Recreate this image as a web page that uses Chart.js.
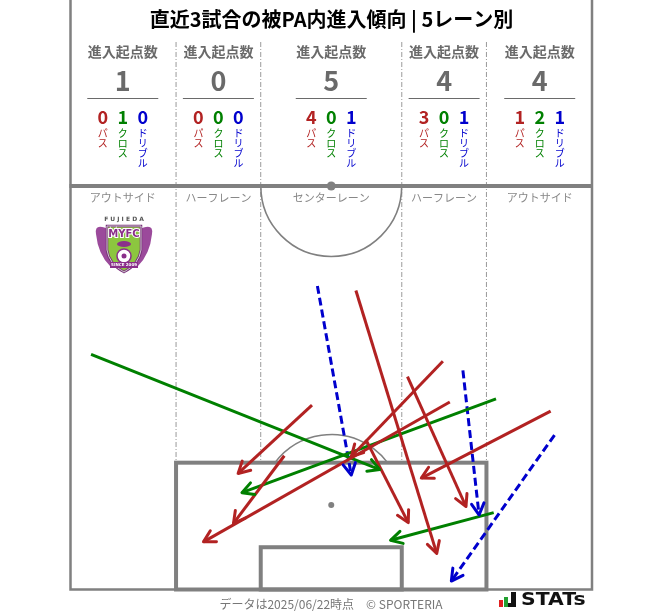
<!DOCTYPE html>
<html>
<head>
<meta charset="utf-8">
<script src="https://cdn.jsdelivr.net/npm/chart.js@4.4.1/dist/chart.umd.min.js"></script>
<style>
  html, body { margin: 0; padding: 0; background: #fff; }
  canvas { display: block; }
</style>
</head>
<body>
<canvas id="pitch" width="663" height="611"></canvas>
<script>
// タイトル・レーン情報
const TITLE = "直近3試合の被PA内進入傾向 | 5レーン別";
const laneNames = ["アウトサイド", "ハーフレーン", "センターレーン", "ハーフレーン", "アウトサイド"];
const laneEdges = [0, 13.84, 24.84, 43.16, 54.16, 68]; // m (ピッチ幅68m)
const laneTotals = [1, 0, 5, 4, 4];
const lanePass = [0, 0, 4, 3, 1];
const laneCross = [1, 0, 0, 0, 2];
const laneDribble = [0, 0, 1, 1, 1];

// 矢印 [始点x, 始点y, 終点x, 終点y] (x: 左タッチラインから m, y: ゴールラインから m)
const passes = [
    [31.5, 24.0, 21.9, 15.1],
    [27.9, 17.4, 21.3, 8.6],
    [48.5, 29.7, 36.6, 17.3],
    [49.4, 24.4, 17.4, 6.2],
    [37.2, 38.9, 47.7, 4.7],
    [43.9, 27.7, 51.5, 10.8],
    [62.5, 23.2, 45.7, 14.5],
    [38.5, 19.5, 44.0, 8.7]
];
const crosses = [
    [2.8, 30.6, 40.3, 15.6],
    [55.4, 24.8, 22.4, 12.6],
    [55.1, 10.0, 41.7, 6.4]
];
const dribbles = [
    [32.2, 39.5, 36.6, 14.9],
    [51.1, 28.5, 53.2, 9.7],
    [63.0, 20.1, 49.6, 1.1]
];

const RED = "#b22222", GREEN = "#008000", BLUE = "#0000cd", LINE = "#808080";

// データセット作成
function toDatasets(list, color, dashed) {
    return list.map(a => ({
        data: [{ x: a[0], y: a[1] }, { x: a[2], y: a[3] }],
        showLine: true,
        borderColor: color,
        borderWidth: 3,
        borderDash: dashed ? [8, 4] : [],
        pointRadius: 0
    }));
}

const datasets = [].concat(
    toDatasets(passes, RED, false),
    toDatasets(crosses, GREEN, false),
    toDatasets(dribbles, BLUE, true)
);

// ピッチを描く
const pitchPlugin = {
    id: "pitch",
    beforeDatasetsDraw(chart) {
        const ctx = chart.ctx;
        const X = v => chart.scales.x.getPixelForValue(v);
        const Y = v => chart.scales.y.getPixelForValue(v);
        const r = X(9.15) - X(0);
        ctx.save();
        ctx.fillStyle = LINE;

        // レーン区切り
        ctx.lineWidth = 1;
        ctx.strokeStyle = "#9a9a9a";
        ctx.setLineDash([5, 2, 1, 2]);
        for (let i = 1; i < laneEdges.length - 1; i++) {
            ctx.beginPath();
            ctx.moveTo(X(laneEdges[i]), 42);
            ctx.lineTo(X(laneEdges[i]), Y(16.5));
            ctx.stroke();
        }
        ctx.setLineDash([]);
        ctx.strokeStyle = LINE;

        // 外枠
        ctx.lineWidth = 2.5;
        ctx.beginPath();
        ctx.moveTo(X(0) + 1, 0); ctx.lineTo(X(0) + 1, Y(0));
        ctx.lineTo(X(68) - 1, Y(0)); ctx.lineTo(X(68) - 1, 0);
        ctx.stroke();

        // ハーフウェーライン
        ctx.lineWidth = 4;
        ctx.beginPath();
        ctx.moveTo(X(0), Y(52.5)); ctx.lineTo(X(68), Y(52.5));
        ctx.stroke();

        // センターサークル
        ctx.lineWidth = 1.6;
        ctx.beginPath();
        ctx.arc(X(34), Y(52.5), r, 0, Math.PI);
        ctx.stroke();
        ctx.beginPath();
        ctx.arc(X(34), Y(52.5), 4.5, 0, Math.PI * 2);
        ctx.fill();

        // ペナルティアーク
        const th = Math.acos(5.5 / 9.15);
        ctx.beginPath();
        ctx.arc(X(34), Y(11), r, -Math.PI / 2 - th, -Math.PI / 2 + th);
        ctx.stroke();

        // PA・ゴールエリア
        ctx.lineWidth = 4;
        ctx.strokeRect(X(13.84), Y(16.5), X(54.16) - X(13.84), Y(0) - Y(16.5));
        ctx.strokeRect(X(24.84), Y(5.5), X(43.16) - X(24.84), Y(0) - Y(5.5));
        ctx.beginPath();
        ctx.arc(X(34), Y(11), 3, 0, Math.PI * 2);
        ctx.fill();

        // レーン名
        ctx.fillStyle = "#888";
        ctx.font = "11px 'Noto Sans CJK JP'";
        ctx.textAlign = "center";
        ctx.textBaseline = "middle";
        for (let i = 0; i < laneNames.length; i++) {
            const cx = (X(laneEdges[i]) + X(laneEdges[i + 1])) / 2;
            ctx.fillText(laneNames[i], cx, 198);
        }
        ctx.restore();
    }
};

// 矢印の先端
const arrowPlugin = {
    id: "arrowHeads",
    afterDatasetsDraw(chart) {
        const ctx = chart.ctx;
        chart.data.datasets.forEach((ds, i) => {
            const pts = chart.getDatasetMeta(i).data;
            const p0 = pts[0], p1 = pts[1];
            const ang = Math.atan2(p1.y - p0.y, p1.x - p0.x);
            const len = 13, spread = 0.5;
            ctx.save();
            ctx.strokeStyle = ds.borderColor;
            ctx.lineWidth = 3;
            ctx.lineCap = "round";
            ctx.lineJoin = "round";
            ctx.beginPath();
            ctx.moveTo(p1.x - len * Math.cos(ang - spread), p1.y - len * Math.sin(ang - spread));
            ctx.lineTo(p1.x, p1.y);
            ctx.lineTo(p1.x - len * Math.cos(ang + spread), p1.y - len * Math.sin(ang + spread));
            ctx.stroke();
            ctx.restore();
        });
    }
};

// 藤枝MYFCエンブレム (簡易)
function drawLogo(ctx, cx, top) {
    ctx.save();
    ctx.textAlign = "center";
    ctx.textBaseline = "middle";
    ctx.fillStyle = "#555";
    ctx.font = "bold 6px 'DejaVu Sans'";
    ctx.fillText("F U J I E D A", cx, top + 5);
    // 羽
    ctx.fillStyle = "#9b4a9b";
    [-1, 1].forEach(s => {
        ctx.beginPath();
        ctx.moveTo(cx + s * 14, top + 16);
        ctx.quadraticCurveTo(cx + s * 30, top + 8, cx + s * 28, top + 20);
        ctx.quadraticCurveTo(cx + s * 26, top + 40, cx + s * 14, top + 52);
        ctx.closePath();
        ctx.fill();
    });
    // 盾
    ctx.beginPath();
    ctx.moveTo(cx - 17, top + 12);
    ctx.lineTo(cx + 17, top + 12);
    ctx.lineTo(cx + 17, top + 36);
    ctx.quadraticCurveTo(cx + 15, top + 50, cx, top + 58);
    ctx.quadraticCurveTo(cx - 15, top + 50, cx - 17, top + 36);
    ctx.closePath();
    ctx.fillStyle = "#8cc63f";
    ctx.fill();
    ctx.lineWidth = 2.5;
    ctx.strokeStyle = "#7a2d7a";
    ctx.stroke();
    ctx.lineWidth = 1;
    ctx.strokeStyle = "#ccc";
    ctx.stroke();
    ctx.font = "bold 10px 'DejaVu Sans'";
    ctx.lineWidth = 2;
    ctx.strokeStyle = "#fff";
    ctx.strokeText("MYFC", cx, top + 20);
    ctx.fillStyle = "#8a2f8a";
    ctx.fillText("MYFC", cx, top + 20);
    // 鳥
    ctx.beginPath();
    ctx.ellipse(cx, top + 30, 7, 3, 0, 0, Math.PI * 2);
    ctx.fill();
    // ボール
    ctx.beginPath();
    ctx.arc(cx, top + 42, 7, 0, Math.PI * 2);
    ctx.fillStyle = "#fff";
    ctx.fill();
    ctx.strokeStyle = "#8a2f8a";
    ctx.lineWidth = 1.5;
    ctx.stroke();
    ctx.fillStyle = "#8a2f8a";
    ctx.beginPath();
    ctx.arc(cx, top + 42, 2.5, 0, Math.PI * 2);
    ctx.fill();
    // リボン
    ctx.fillRect(cx - 14, top + 48, 28, 6);
    ctx.fillStyle = "#fff";
    ctx.font = "bold 4px 'DejaVu Sans'";
    ctx.fillText("SINCE 2009", cx, top + 51);
    ctx.restore();
}

// ヘッダー・フッター
const headerPlugin = {
    id: "header",
    afterDraw(chart) {
        const ctx = chart.ctx;
        const X = v => chart.scales.x.getPixelForValue(v);
        ctx.save();
        ctx.textAlign = "center";
        ctx.textBaseline = "middle";

        ctx.fillStyle = "#000";
        ctx.font = "bold 20px 'Noto Sans CJK JP'";
        ctx.fillText(TITLE, 331.5, 19);

        const vertical = (txt, x, y0) => {
            for (let k = 0; k < txt.length; k++) ctx.fillText(txt[k], x, y0 + k * 10);
        };

        for (let i = 0; i < laneTotals.length; i++) {
            const cx = (X(laneEdges[i]) + X(laneEdges[i + 1])) / 2;
            ctx.fillStyle = "#6a6a6a";
            ctx.font = "bold 14px 'Noto Sans CJK JP'";
            ctx.fillText("進入起点数", cx, 52);
            ctx.font = "bold 27px 'Noto Sans CJK JP'";
            ctx.fillText(String(laneTotals[i]), cx, 81);
            ctx.strokeStyle = "#6a6a6a";
            ctx.lineWidth = 1.2;
            ctx.beginPath();
            ctx.moveTo(cx - 35.5, 98.5);
            ctx.lineTo(cx + 35.5, 98.5);
            ctx.stroke();

            const cols = [[lanePass[i], "パス", RED], [laneCross[i], "クロス", GREEN], [laneDribble[i], "ドリブル", BLUE]];
            cols.forEach((c, k) => {
                const x = cx + (k - 1) * 20;
                ctx.fillStyle = c[2];
                ctx.font = "bold 18px 'Noto Sans CJK JP'";
                ctx.fillText(String(c[0]), x, 117);
                ctx.font = "10px 'Noto Sans CJK JP'";
                vertical(c[1], x, 133);
            });
        }

        drawLogo(ctx, 124, 214);

        // フッター
        ctx.fillStyle = "#777";
        ctx.font = "12px 'Noto Sans CJK JP'";
        ctx.fillText("データは2025/06/22時点　© SPORTERIA", 331, 604);

        // STATs ロゴ
        ctx.fillStyle = "#e02020";
        ctx.fillRect(499, 600, 4, 7);
        ctx.fillStyle = "#22a030";
        ctx.fillRect(504, 597, 4, 10);
        ctx.fillStyle = "#111";
        ctx.fillRect(511, 592, 5, 15);
        ctx.fillRect(508, 603, 5, 4);
        ctx.textAlign = "left";
        ctx.font = "bold 20px 'DejaVu Sans'";
        ctx.save();
        ctx.translate(521, 600);
        ctx.scale(1.02, 0.92);
        ctx.fillText("STATs", 0, 0);
        ctx.restore();
        ctx.restore();
    }
};

new Chart(document.getElementById("pitch").getContext("2d"), {
    type: "scatter",
    data: { datasets: datasets },
    options: {
        responsive: false,
        animation: false,
        events: [],
        layout: { padding: { left: 69.5, right: 70, top: 186, bottom: 21.5 } },
        plugins: {
            legend: { display: false },
            tooltip: { enabled: false },
            title: { display: false }
        },
        scales: {
            x: { type: "linear", min: 0, max: 68, display: false },
            y: { type: "linear", min: 0, max: 52.5, display: false }
        }
    },
    plugins: [pitchPlugin, arrowPlugin, headerPlugin]
});
</script>
</body>
</html>
